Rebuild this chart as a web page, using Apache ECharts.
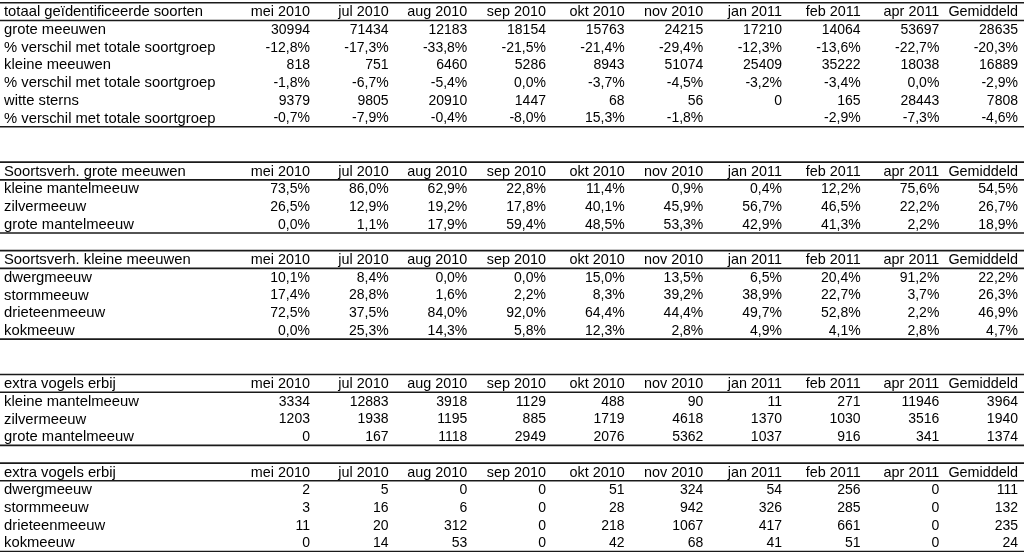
<!DOCTYPE html>
<html>
<head>
<meta charset="utf-8">
<script src="https://cdn.jsdelivr.net/npm/echarts@6/dist/echarts.min.js"></script>
<style>html,body{margin:0;padding:0;background:#fff}#c{width:1024px;height:552px}</style>
</head>
<body>
<div id="c"></div>
<script>
// ---------- DATA ----------
const months = ['mei 2010','jul 2010','aug 2010','sep 2010','okt 2010','nov 2010','jan 2011','feb 2011','apr 2011','Gemiddeld'];

// Table 1: totaal geïdentificeerde soorten
const groteMeeuwen   = [30994,71434,12183,18154,15763,24215,17210,14064,53697,28635];
const pctGrote       = [-12.8,-17.3,-33.8,-21.5,-21.4,-29.4,-12.3,-13.6,-22.7,-20.3];
const kleineMeeuwen  = [818,751,6460,5286,8943,51074,25409,35222,18038,16889];
const pctKleine      = [-1.8,-6.7,-5.4,0.0,-3.7,-4.5,-3.2,-3.4,0.0,-2.9];
const witteSterns    = [9379,9805,20910,1447,68,56,0,165,28443,7808];
const pctSterns      = [-0.7,-7.9,-0.4,-8.0,15.3,-1.8,null,-2.9,-7.3,-4.6];

// Table 2: Soortsverh. grote meeuwen (%)
const svKleineMantel = [73.5,86.0,62.9,22.8,11.4,0.9,0.4,12.2,75.6,54.5];
const svZilver       = [26.5,12.9,19.2,17.8,40.1,45.9,56.7,46.5,22.2,26.7];
const svGroteMantel  = [0.0,1.1,17.9,59.4,48.5,53.3,42.9,41.3,2.2,18.9];

// Table 3: Soortsverh. kleine meeuwen (%)
const svDwerg        = [10.1,8.4,0.0,0.0,15.0,13.5,6.5,20.4,91.2,22.2];
const svStorm        = [17.4,28.8,1.6,2.2,8.3,39.2,38.9,22.7,3.7,26.3];
const svDrieteen     = [72.5,37.5,84.0,92.0,64.4,44.4,49.7,52.8,2.2,46.9];
const svKok          = [0.0,25.3,14.3,5.8,12.3,2.8,4.9,4.1,2.8,4.7];

// Table 4: extra vogels erbij (grote meeuwen)
const exKleineMantel = [3334,12883,3918,1129,488,90,11,271,11946,3964];
const exZilver       = [1203,1938,1195,885,1719,4618,1370,1030,3516,1940];
const exGroteMantel  = [0,167,1118,2949,2076,5362,1037,916,341,1374];

// Table 5: extra vogels erbij (kleine meeuwen)
const exDwerg        = [2,5,0,0,51,324,54,256,0,111];
const exStorm        = [3,16,6,0,28,942,326,285,0,132];
const exDrieteen     = [11,20,312,0,218,1067,417,661,0,235];
const exKok          = [0,14,53,0,42,68,41,51,0,24];

const PCT = 'pct', INT = 'int';
const rows = [
  {label:'totaal geïdentificeerde soorten', head:true},
  {label:'grote meeuwen', vals:groteMeeuwen, fmt:INT},
  {label:'% verschil met totale soortgroep', vals:pctGrote, fmt:PCT},
  {label:'kleine meeuwen', vals:kleineMeeuwen, fmt:INT},
  {label:'% verschil met totale soortgroep', vals:pctKleine, fmt:PCT},
  {label:'witte sterns', vals:witteSterns, fmt:INT},
  {label:'% verschil met totale soortgroep', vals:pctSterns, fmt:PCT},
  {label:''}, {label:''},
  {label:'Soortsverh. grote meeuwen', head:true},
  {label:'kleine mantelmeeuw', vals:svKleineMantel, fmt:PCT},
  {label:'zilvermeeuw', vals:svZilver, fmt:PCT},
  {label:'grote mantelmeeuw', vals:svGroteMantel, fmt:PCT},
  {label:''},
  {label:'Soortsverh. kleine meeuwen', head:true},
  {label:'dwergmeeuw', vals:svDwerg, fmt:PCT},
  {label:'stormmeeuw', vals:svStorm, fmt:PCT},
  {label:'drieteenmeeuw', vals:svDrieteen, fmt:PCT},
  {label:'kokmeeuw', vals:svKok, fmt:PCT},
  {label:''}, {label:''},
  {label:'extra vogels erbij', head:true},
  {label:'kleine mantelmeeuw', vals:exKleineMantel, fmt:INT},
  {label:'zilvermeeuw', vals:exZilver, fmt:INT},
  {label:'grote mantelmeeuw', vals:exGroteMantel, fmt:INT},
  {label:''},
  {label:'extra vogels erbij', head:true},
  {label:'dwergmeeuw', vals:exDwerg, fmt:INT},
  {label:'stormmeeuw', vals:exStorm, fmt:INT},
  {label:'drieteenmeeuw', vals:exDrieteen, fmt:INT},
  {label:'kokmeeuw', vals:exKok, fmt:INT}
];

// ---------- BUILD ----------
function fmtVal(v, f) {
  if (v === null || v === undefined) return '';
  if (f === PCT) return v.toFixed(1).replace('.', ',') + '%';
  return String(v);
}
// cell: [col, row, kind]  kind 0 = number, 1 = column header, 2 = row label
const cellData = [], cellText = [];
rows.forEach((r, ri) => {
  if (r.label) { cellData.push([0, ri, 2]); cellText.push(r.label); }
  if (r.head) {
    months.forEach((m, ci) => { cellData.push([ci, ri, 1]); cellText.push(m); });
  } else if (r.vals) {
    r.vals.forEach((v, ci) => {
      const t = fmtVal(v, r.fmt);
      if (t !== '') { cellData.push([ci, ri, 0]); cellText.push(t); }
    });
  }
});
// rules: above & below every header row, below the last row of every block
const ruleData = [];
rows.forEach((r, ri) => {
  if (r.head) { ruleData.push([0, ri, -1]); ruleData.push([0, ri, 1]); }
  else if (r.vals && (ri === rows.length - 1 || !rows[ri + 1].vals)) ruleData.push([0, ri, 1]);
});

const FONT = '"Liberation Sans", Arial, sans-serif';
const FONT_SIZES = [14, 14.4, 14.8];
const LABEL_X = 4;

const chart = echarts.init(document.getElementById('c'), null, {renderer: 'canvas'});
chart.setOption({
  animation: false,
  backgroundColor: '#ffffff',
  grid: {left: 231.3, right: 6, top: 2.8, bottom: 0.4, containLabel: false},
  xAxis: {
    type: 'category', data: months,
    axisLine: {show: false}, axisTick: {show: false}, axisLabel: {show: false}, splitLine: {show: false}
  },
  yAxis: {
    type: 'category', inverse: true,
    data: rows.map((r, i) => i),
    axisLine: {show: false}, axisTick: {show: false}, splitLine: {show: false}, axisLabel: {show: false}
  },
  series: [
    {
      type: 'custom', name: 'rules', silent: true, clip: false,
      data: ruleData,
      encode: {x: 0, y: 1},
      renderItem: function (params, api) {
        const p = api.coord([0, api.value(1)]);
        const h = api.size([0, 1])[1];
        let y = p[1] + api.value(2) * h / 2;
        y = Math.max(y, 0.8);
        return {
          type: 'line',
          shape: {x1: 0, y1: y, x2: api.getWidth(), y2: y},
          style: {stroke: '#1a1a1a', lineWidth: 1.6}
        };
      }
    },
    {
      type: 'custom', name: 'cells', silent: true, clip: false,
      data: cellData,
      encode: {x: 0, y: 1},
      renderItem: function (params, api) {
        const kind = api.value(2);
        const p = api.coord([api.value(0), api.value(1)]);
        const bw = api.size([1, 0])[0];
        const isLabel = kind === 2;
        return {
          type: 'text',
          x: isLabel ? LABEL_X : p[0] + bw / 2, y: p[1] + 0.6,
          style: {
            text: cellText[params.dataIndex],
            align: isLabel ? 'left' : 'right', verticalAlign: 'middle',
            fontSize: FONT_SIZES[kind], fontFamily: FONT, fill: '#000'
          }
        };
      }
    }
  ]
});
</script>
</body>
</html>
